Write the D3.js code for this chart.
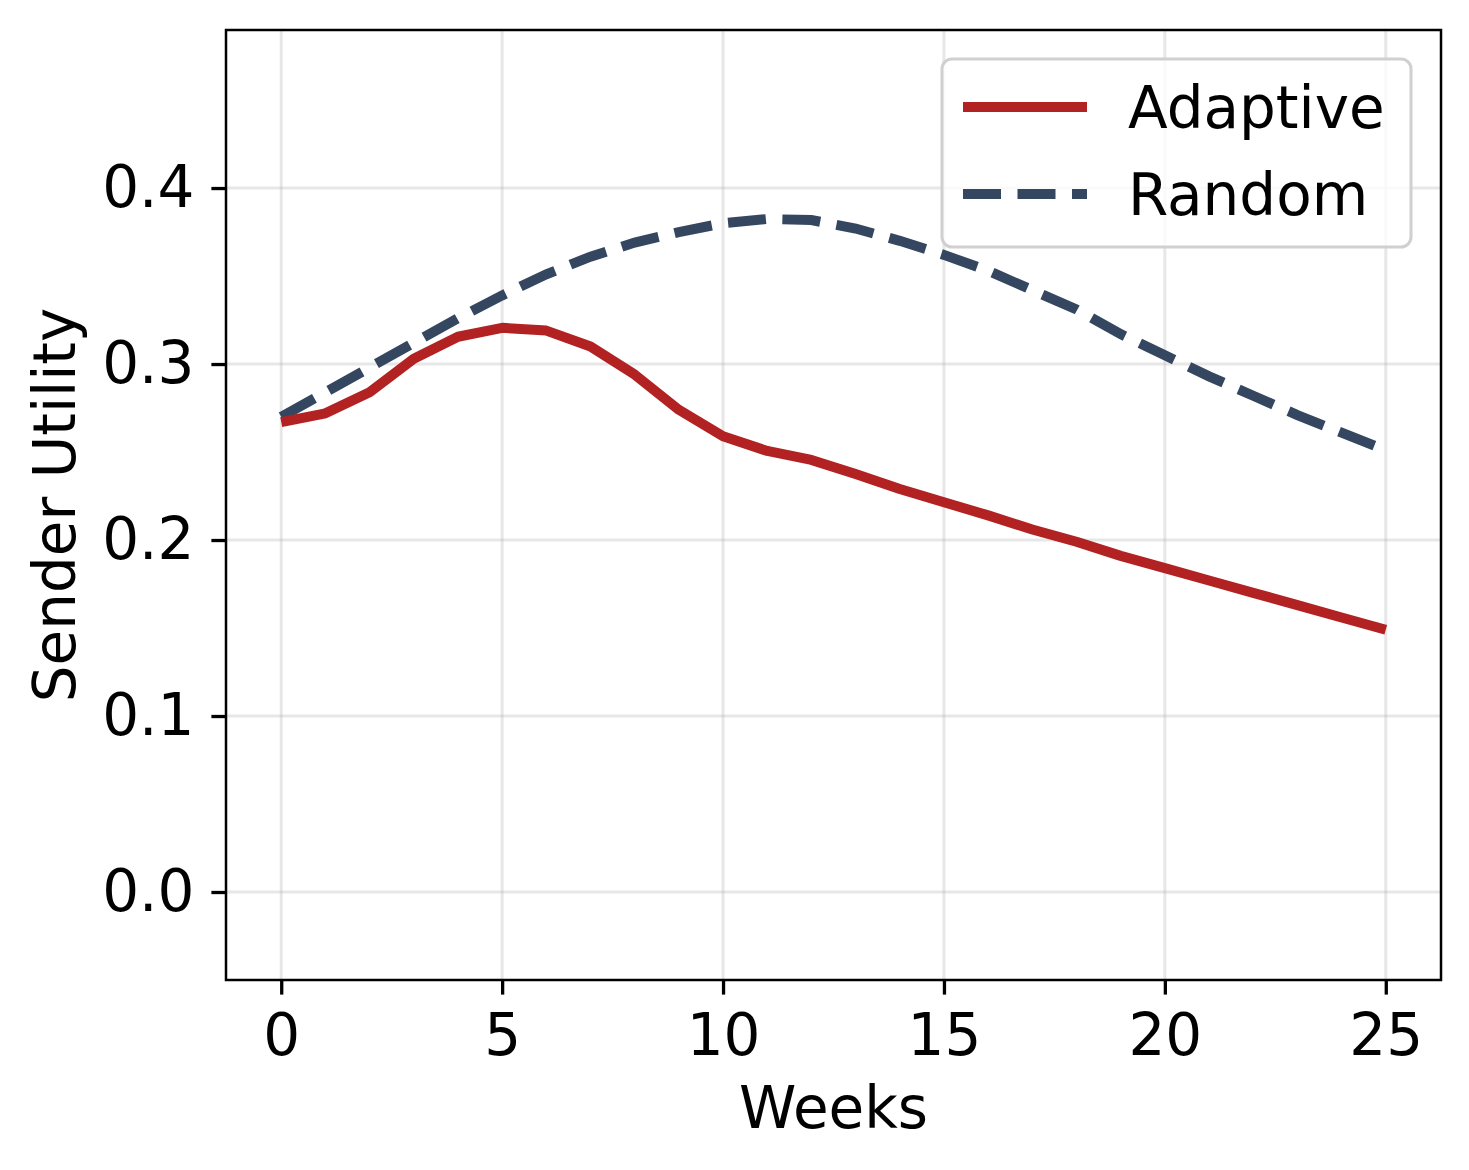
<!DOCTYPE html>
<html>
<head>
<meta charset="utf-8">
<script src="https://cdn.jsdelivr.net/npm/d3@7"></script>
<style>
  body { margin: 0; background: #fff; }
  text { font-family: "DejaVu Sans", sans-serif; }
</style>
</head>
<body>
<svg id="chart" width="1469" height="1170"></svg>
<script>
// data
var weeks = d3.range(0, 26);
var adaptive = [0.267, 0.272, 0.284, 0.303, 0.3155, 0.3206, 0.319, 0.310, 0.294, 0.274,
                0.259, 0.2506, 0.2455, 0.2375, 0.229, 0.2215, 0.214, 0.206, 0.199, 0.191,
                0.184, 0.177, 0.170, 0.163, 0.156, 0.149];
var random = [0.270, 0.284, 0.298, 0.312, 0.326, 0.339, 0.351, 0.361, 0.369, 0.375,
              0.380, 0.3824, 0.3818, 0.377, 0.370, 0.362, 0.353, 0.342, 0.331, 0.317,
              0.305, 0.293, 0.282, 0.271, 0.261, 0.251];
var yTicks = [0.0, 0.1, 0.2, 0.3, 0.4];
var xTicks = [0, 5, 10, 15, 20, 25];
var seriesNames = ["Adaptive", "Random"];

var plotLeft = 226, plotRight = 1441, plotTop = 30, plotBottom = 980;
var fontPx = "58px";
var svg = d3.select("#chart");

var x = d3.scaleLinear().domain([-1.25, 26.25]).range([plotLeft, plotRight]);
var y = d3.scaleLinear().domain([-0.05, 0.4898]).range([plotBottom, plotTop]);

// grid
var grid = svg.append("g");
grid.selectAll(".gx").data(xTicks).enter().append("line")
  .attr("x1", d => x(d)).attr("x2", d => x(d))
  .attr("y1", plotTop).attr("y2", plotBottom)
  .attr("stroke", "#b0b0b0").attr("stroke-opacity", 0.3).attr("stroke-width", 3);
grid.selectAll(".gy").data(yTicks).enter().append("line")
  .attr("y1", d => y(d)).attr("y2", d => y(d))
  .attr("x1", plotLeft).attr("x2", plotRight)
  .attr("stroke", "#b0b0b0").attr("stroke-opacity", 0.3).attr("stroke-width", 3);

// lines
var line = d3.line().x((d, i) => x(weeks[i])).y(d => y(d));
svg.append("path").datum(random).attr("d", line)
  .attr("fill", "none").attr("stroke", "#354760").attr("stroke-width", 10)
  .attr("stroke-dasharray", "38,16.5");
svg.append("path").datum(adaptive).attr("d", line)
  .attr("fill", "none").attr("stroke", "#b22222").attr("stroke-width", 10)
  .attr("stroke-linejoin", "round");

// axes
var xAxis = d3.axisBottom(x).tickValues(xTicks).tickSize(14.6).tickPadding(19).tickFormat(d3.format("d"));
var yAxis = d3.axisLeft(y).tickValues(yTicks).tickSize(14.6).tickPadding(17).tickFormat(d3.format(".1f"));

var gx = svg.append("g").attr("transform", "translate(0," + plotBottom + ")").call(xAxis);
var gy = svg.append("g").attr("transform", "translate(" + plotLeft + ",0)").call(yAxis);
[gx, gy].forEach(function(g) {
  g.select(".domain").remove();
  g.selectAll(".tick line").attr("stroke", "#000").attr("stroke-width", 3.3);
  g.selectAll(".tick text").attr("fill", "#000").style("font-size", fontPx);
});

// frame
svg.append("rect").attr("x", plotLeft).attr("y", plotTop)
  .attr("width", plotRight - plotLeft).attr("height", plotBottom - plotTop)
  .attr("fill", "none").attr("stroke", "#000").attr("stroke-width", 2.5);

// axis labels
svg.append("text").attr("x", (plotLeft + plotRight) / 2).attr("y", 1128)
  .attr("text-anchor", "middle").style("font-size", fontPx).text("Weeks");
svg.append("text").attr("transform", "translate(75," + (plotTop + plotBottom) / 2 + ") rotate(-90)")
  .attr("text-anchor", "middle").style("font-size", fontPx).text("Sender Utility");

// legend
var lg = svg.append("g");
lg.append("rect").attr("x", 942).attr("y", 59).attr("width", 469).attr("height", 188)
  .attr("rx", 10).attr("fill", "#fff").attr("fill-opacity", 0.8)
  .attr("stroke", "#d0d0d0").attr("stroke-width", 3);
var legendStyles = [
  { color: "#b22222", dash: null, ly: 107 },
  { color: "#354760", dash: "38,16.5", ly: 194 }
];
seriesNames.forEach(function(name, i) {
  var s = legendStyles[i];
  lg.append("line").attr("x1", 963).attr("x2", 1087).attr("y1", s.ly).attr("y2", s.ly)
    .attr("stroke", s.color).attr("stroke-width", 10)
    .attr("stroke-dasharray", s.dash);
  lg.append("text").attr("x", 1128).attr("y", s.ly + 21)
    .style("font-size", fontPx).text(name);
});
</script>
</body>
</html>
